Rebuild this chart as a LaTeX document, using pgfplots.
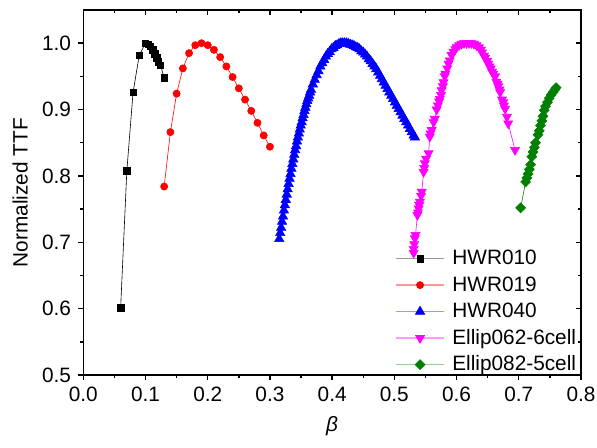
\documentclass[border=0pt]{standalone}
\usepackage{fontspec}
\setmainfont{Liberation Sans}
\usepackage{pgfplots}
\pgfplotsset{compat=1.18}
\definecolor{ogreen}{RGB}{0,128,0}
\definecolor{omag}{RGB}{255,0,255}
\definecolor{oblue}{RGB}{0,0,255}
\definecolor{ored}{RGB}{255,0,0}
\pgfplotsset{
  basebox/.style={
    at={(0,0)}, anchor=south west,
    scale only axis, width=248.85pt, height=182.5pt,
    xmin=0, xmax=0.8, ymin=0.5, ymax=1.05,
    xtick={0,0.1,0.2,0.3,0.4,0.5,0.6,0.7,0.8},
    ytick={0.5,0.6,0.7,0.8,0.9,1.0},
    minor x tick num=1, minor y tick num=1,
    major tick length=2.5pt, minor tick length=1.5pt,
    axis line style={line width=0.7pt},
    every tick/.style={line width=0.7pt, black},
  }
}
\begin{document}
\fontsize{10.4pt}{12.5pt}\selectfont
\begin{tikzpicture}
\useasboundingbox (-41.65pt,-36pt) rectangle (256.85pt,187.5pt);
\begin{axis}[basebox,
  tick align=outside, xtick pos=left, ytick pos=left,
  /pgf/number format/assume math mode=true,
  xticklabel style={/pgf/number format/.cd, fixed, fixed zerofill, precision=1},
  yticklabel style={/pgf/number format/.cd, fixed, fixed zerofill, precision=1},
  xlabel={\textit{β}}, ylabel={Normalized TTF},
  legend cell align=left,
  legend style={draw=none, fill=none, at={(0.626,0.0)}, anchor=south west,
    row sep=3.25pt, inner sep=0pt,
    nodes={inner sep=0pt, text height=8pt, text depth=2pt}},
  legend image code/.code={\draw[mark=none, line width=0.8pt, opacity=0.4] (0pt,0pt) -- (24pt,0pt); \draw[only marks] plot coordinates {(12pt,0pt)}; \node at (27pt,0) {};},
  every axis plot/.append style={line width=0.3pt},
]
\addplot[black, mark=square*, mark size=1.6pt, mark options={solid}] coordinates {
(0.060,0.601)(0.070,0.808)(0.080,0.926)(0.090,0.982)(0.100,1.000)(0.104,0.998)
(0.108,0.995)(0.112,0.990)(0.115,0.984)(0.118,0.978)(0.121,0.972)(0.124,0.967)(0.130,0.948)};
\addlegendentry{HWR010}
\addplot[ored, mark=*, mark size=1.8pt] coordinates {
(0.13,0.784)(0.14,0.866)(0.15,0.924)(0.16,0.962)(0.17,0.985)(0.18,0.997)(0.19,1.000)
(0.20,0.997)(0.21,0.990)(0.22,0.979)(0.23,0.965)(0.24,0.949)(0.25,0.932)(0.26,0.915)
(0.27,0.898)(0.28,0.880)(0.29,0.861)(0.30,0.844)};
\addlegendentry{HWR019}
\addplot[oblue, mark=triangle*, mark size=2.7pt] coordinates {
(0.3150,0.705)(0.3165,0.714)(0.3180,0.722)(0.3195,0.731)(0.3210,0.739)(0.3225,0.748)
(0.3240,0.756)(0.3255,0.764)(0.3270,0.772)(0.3285,0.780)(0.3300,0.788)(0.3315,0.796)
(0.3330,0.803)(0.3345,0.811)(0.3360,0.818)(0.3375,0.825)(0.3390,0.832)(0.3405,0.839)
(0.3420,0.845)(0.3435,0.852)(0.3450,0.858)(0.3465,0.864)(0.3480,0.870)(0.3495,0.876)
(0.3510,0.881)(0.3525,0.887)(0.3540,0.892)(0.3555,0.898)(0.3570,0.903)(0.3585,0.908)
(0.3600,0.913)(0.3615,0.917)(0.3630,0.921)(0.3645,0.926)(0.3660,0.930)
(0.369,0.938)(0.372,0.945)(0.375,0.952)(0.378,0.958)(0.381,0.965)(0.384,0.970)
(0.387,0.975)(0.390,0.980)(0.393,0.984)(0.396,0.987)(0.399,0.991)(0.402,0.993)
(0.405,0.996)(0.408,0.997)(0.411,0.999)(0.414,1.000)(0.417,1.000)(0.420,1.000)
(0.423,1.000)(0.426,0.999)(0.429,0.998)(0.432,0.997)(0.435,0.996)(0.438,0.994)
(0.441,0.993)(0.444,0.991)(0.447,0.988)(0.450,0.986)(0.453,0.983)(0.456,0.980)
(0.459,0.976)(0.462,0.973)(0.465,0.969)(0.468,0.965)(0.471,0.961)(0.474,0.956)
(0.477,0.951)(0.480,0.946)(0.483,0.941)(0.486,0.936)(0.489,0.931)(0.492,0.926)
(0.495,0.921)(0.498,0.916)(0.501,0.911)(0.504,0.906)(0.507,0.901)(0.510,0.896)
(0.513,0.891)(0.516,0.886)(0.519,0.881)(0.522,0.876)(0.525,0.871)(0.528,0.866)
(0.531,0.861)(0.533,0.858)};
\addlegendentry{HWR040}
\addplot[omag, mark=triangle*, mark size=2.6pt, mark options={rotate=180}] coordinates {
(0.531,0.684)(0.531,0.690)(0.532,0.697)(0.533,0.706)(0.534,0.711)(0.537,0.741)
(0.538,0.745)(0.539,0.751)(0.540,0.756)(0.541,0.761)(0.543,0.770)(0.544,0.776)
(0.547,0.806)(0.548,0.812)(0.549,0.819)(0.551,0.826)(0.555,0.834)(0.557,0.859)
(0.558,0.864)(0.560,0.869)(0.563,0.881)(0.565,0.886)(0.568,0.900)(0.570,0.906)
(0.572,0.912)(0.573,0.916)(0.575,0.922)(0.576,0.929)(0.578,0.935)(0.579,0.941)
(0.581,0.950)(0.582,0.954)(0.585,0.962)(0.587,0.969)(0.589,0.974)(0.592,0.982)
(0.595,0.987)(0.598,0.991)(0.600,0.994)(0.604,0.997)(0.608,0.999)(0.612,1.000)
(0.616,1.000)(0.620,1.000)(0.624,1.000)(0.628,0.999)(0.632,0.997)(0.636,0.994)
(0.639,0.990)(0.641,0.986)(0.644,0.981)(0.646,0.978)(0.649,0.973)(0.651,0.969)
(0.653,0.965)(0.655,0.962)(0.657,0.957)(0.659,0.954)(0.662,0.950)(0.664,0.942)
(0.666,0.939)(0.667,0.935)(0.669,0.930)(0.670,0.926)(0.673,0.915)(0.675,0.911)
(0.676,0.906)(0.678,0.901)(0.681,0.889)(0.683,0.879)(0.694,0.839)};
\addlegendentry{Ellip062-6cell}
\addplot[ogreen, mark=square*, mark size=1.75pt, mark options={rotate=45}] coordinates {
(0.703,0.752)(0.711,0.791)(0.713,0.797)(0.715,0.803)(0.717,0.810)(0.719,0.817)
(0.721,0.829)(0.723,0.836)(0.725,0.843)(0.727,0.850)(0.731,0.862)(0.733,0.868)
(0.735,0.876)(0.737,0.883)(0.739,0.890)(0.741,0.899)(0.743,0.905)(0.746,0.911)
(0.749,0.917)(0.752,0.922)(0.755,0.926)(0.758,0.930)(0.760,0.933)};
\addlegendentry{Ellip082-5cell}
\end{axis}
\begin{axis}[basebox,
  tick align=inside, xtick pos=right, ytick pos=right,
  xticklabels={}, yticklabels={}]
\end{axis}
\end{tikzpicture}
\end{document}
